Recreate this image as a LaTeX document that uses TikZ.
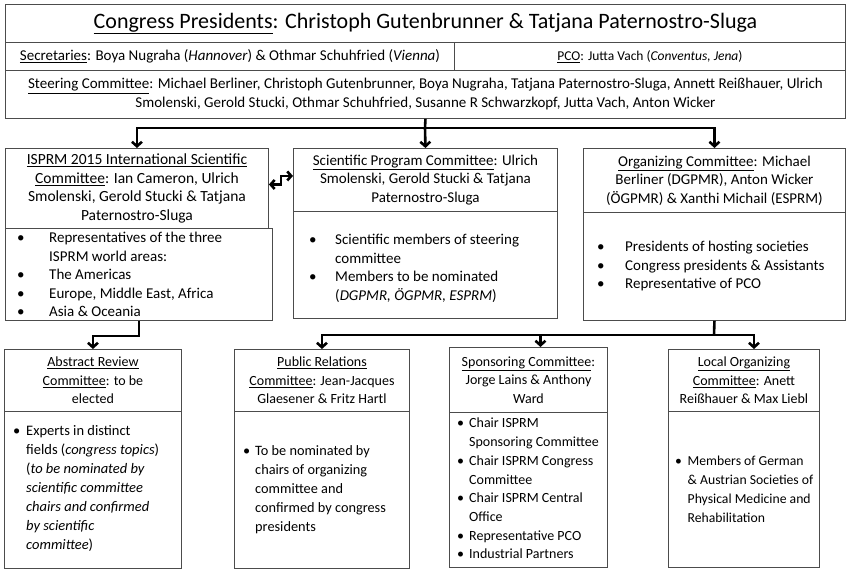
\documentclass[tikz,border=0pt]{standalone}
\usepackage{fontspec}
\setmainfont{Carlito}
\usetikzlibrary{arrows.meta,calc}
\newcommand\bul[1]{\makebox[#1pt][l]{•}}
\newcommand\ind[1]{\hspace*{#1pt}}
\newcommand\fs[2]{\fontsize{#1}{#2}\selectfont}
\tikzset{
  box/.style={draw=black!70, line width=0.9pt, anchor=north west, inner sep=0pt, align=center,
    font=\fs{15}{18.5}},
  txt/.style={anchor=north west, inner sep=0pt, align=left, font=\fs{15}{18.5}},
  conn/.style={line width=2.6pt, -{Straight Barb[length=4.5pt,width=10pt]}},
  dconn/.style={line width=2.6pt, {Straight Barb[length=4pt,width=9pt]}-{Straight Barb[length=4pt,width=9pt]}},
  plain/.style={line width=2.6pt},
}
\begin{document}
\begin{tikzpicture}[x=1pt,y=-1pt]
\useasboundingbox[fill=white] (0,0) rectangle (850,571);
% top
\node[box, minimum width=840pt, minimum height=38pt, font=\fs{22}{26}] (pres) at (5,4)
  {\underline{Congress Presidents}: Christoph Gutenbrunner \& Tatjana Paternostro-Sluga};
\node[box, minimum width=449pt, minimum height=28pt, font=\fs{15}{18}] (sec) at (5,42)
  {\underline{Secretaries}: Boya Nugraha (\textit{Hannover}) \& Othmar Schuhfried (\textit{Vienna})};
\node[box, minimum width=391pt, minimum height=28pt, font=\fs{13.5}{16}] (pco) at (454,42)
  {\underline{PCO}: Jutta Vach (\textit{Conventus, Jena})};
\node[box, minimum width=840pt, minimum height=48pt, font=\fs{15}{19}] (steer) at (5,70)
  {\underline{Steering Committee}: Michael Berliner, Christoph Gutenbrunner, Boya Nugraha, Tatjana Paternostro-Sluga, Annett Reißhauer, Ulrich\\
   Smolenski, Gerold Stucki, Othmar Schuhfried, Susanne R Schwarzkopf, Jutta Vach, Anton Wicker};
% middle headers
\node[box, minimum width=263pt, minimum height=80pt, font=\fs{15.5}{18.5}] (ispH) at (5,148)
  {\underline{ISPRM 2015 International Scientific}\\ \underline{Committee}: Ian Cameron, Ulrich\\ Smolenski, Gerold Stucki \& Tatjana\\ Paternostro-Sluga};
\node[box, minimum width=264pt, minimum height=63pt] (spH) at (293,148)
  {\underline{Scientific Program Committee}: Ulrich\\ Smolenski, Gerold Stucki \& Tatjana\\ Paternostro-Sluga};
\node[box, minimum width=262pt, minimum height=64pt] (orgH) at (583,148)
  {\underline{Organizing Committee}: Michael\\ Berliner (DGPMR), Anton Wicker\\ (ÖGPMR) \& Xanthi Michail (ESPRM)};
% middle bodies
\node[box, minimum width=267pt, minimum height=92pt] (ispB) at (5,228) {};
\node[box, minimum width=264pt, minimum height=107pt] (spB) at (293,211) {};
\node[box, minimum width=262pt, minimum height=108pt] (orgB) at (583,212) {};
\node[txt] (ispT) at (17,232)
  {\bul{32}Representatives of the three\\ \ind{32}ISPRM world areas:\\ \bul{32}The Americas\\ \bul{32}Europe, Middle East, Africa\\ \bul{32}Asia \& Oceania};
\node[txt] (spT) at (309,234)
  {\bul{26}Scientific members of steering\\ \ind{26}committee\\ \bul{26}Members to be nominated\\ \ind{26}(\textit{DGPMR, ÖGPMR, ESPRM})};
\node[txt] (orgT) at (597,241)
  {\bul{28}Presidents of hosting societies\\ \bul{28}Congress presidents \& Assistants\\ \bul{28}Representative of PCO};
% bottom headers
\node[box, minimum width=177pt, minimum height=62pt, font=\fs{14}{18.5}] (absH) at (4,349)
  {\underline{Abstract Review}\\ \underline{Committee}: to be\\ elected};
\node[box, minimum width=175pt, minimum height=62pt, font=\fs{14}{18.5}] (prH) at (234,349)
  {\underline{Public Relations}\\ \underline{Committee}: Jean-Jacques\\ Glaesener \& Fritz Hartl};
\node[box, minimum width=158pt, minimum height=65pt, font=\fs{14}{18.5}] (sponH) at (449,347)
  {\underline{Sponsoring Committee}:\\ Jorge Lains \& Anthony\\ Ward};
\node[box, minimum width=151pt, minimum height=62pt, font=\fs{14}{18.5}] (locH) at (668,349)
  {\underline{Local Organizing}\\ \underline{Committee}: Anett\\ Reißhauer \& Max Liebl};
% bottom bodies
\node[box, minimum width=177pt, minimum height=157pt] (absB) at (4,411) {};
\node[box, minimum width=175pt, minimum height=157pt] (prB) at (234,411) {};
\node[box, minimum width=158pt, minimum height=155pt] (sponB) at (449,412) {};
\node[box, minimum width=151pt, minimum height=156pt] (locB) at (668,411) {};
\node[txt, font=\fs{14.5}{19}] (absT) at (13,425)
  {\bul{13}Experts in distinct\\ \ind{13}fields (\textit{congress topics})\\ \ind{13}(\textit{to be nominated by}\\ \ind{13}\textit{scientific committee}\\ \ind{13}\textit{chairs and confirmed}\\ \ind{13}\textit{by scientific}\\ \ind{13}\textit{committee})};
\node[txt, font=\fs{14.3}{19}] (prT) at (243,445)
  {\bul{12}To be nominated by\\ \ind{12}chairs of organizing\\ \ind{12}committee and\\ \ind{12}confirmed by congress\\ \ind{12}presidents};
\node[txt, font=\fs{14}{18.7}] (sponT) at (457,418)
  {\bul{12}Chair ISPRM\\ \ind{12}Sponsoring Committee\\ \bul{12}Chair ISPRM Congress\\ \ind{12}Committee\\ \bul{12}Chair ISPRM Central\\ \ind{12}Office\\ \bul{12}Representative PCO\\ \bul{12}Industrial Partners};
\node[txt, font=\fs{13.7}{18.8}] (locT) at (675,456)
  {\bul{12.5}Members of German\\ \ind{12.5}\& Austrian Societies of\\ \ind{12.5}Physical Medicine and\\ \ind{12.5}Rehabilitation};
% connectors
\coordinate (j1) at (425,128);
\draw[plain] (steer.south) -- (j1);
\draw[conn] (j1) -- (spH.north);
\draw[conn] (j1) -| (ispH.north);
\draw[conn] (j1) -| (orgH.north);
\draw[dconn] ($(ispH.east)+(0,-4)$) -- ++(12,0) |- ($(spH.west)+(0,-4)$);
\draw[conn] (ispB.south) -- ++(0,15) -| (absH.north);
\coordinate (j2) at (714,335);
\draw[plain] (orgB.south) -- (j2);
\draw[conn] (j2) -| (prH.north);
\draw[conn] (j2) -| ([xshift=12pt]sponH.north);
\draw[conn] (j2) -| ([xshift=10pt]locH.north);
\end{tikzpicture}
\end{document}
